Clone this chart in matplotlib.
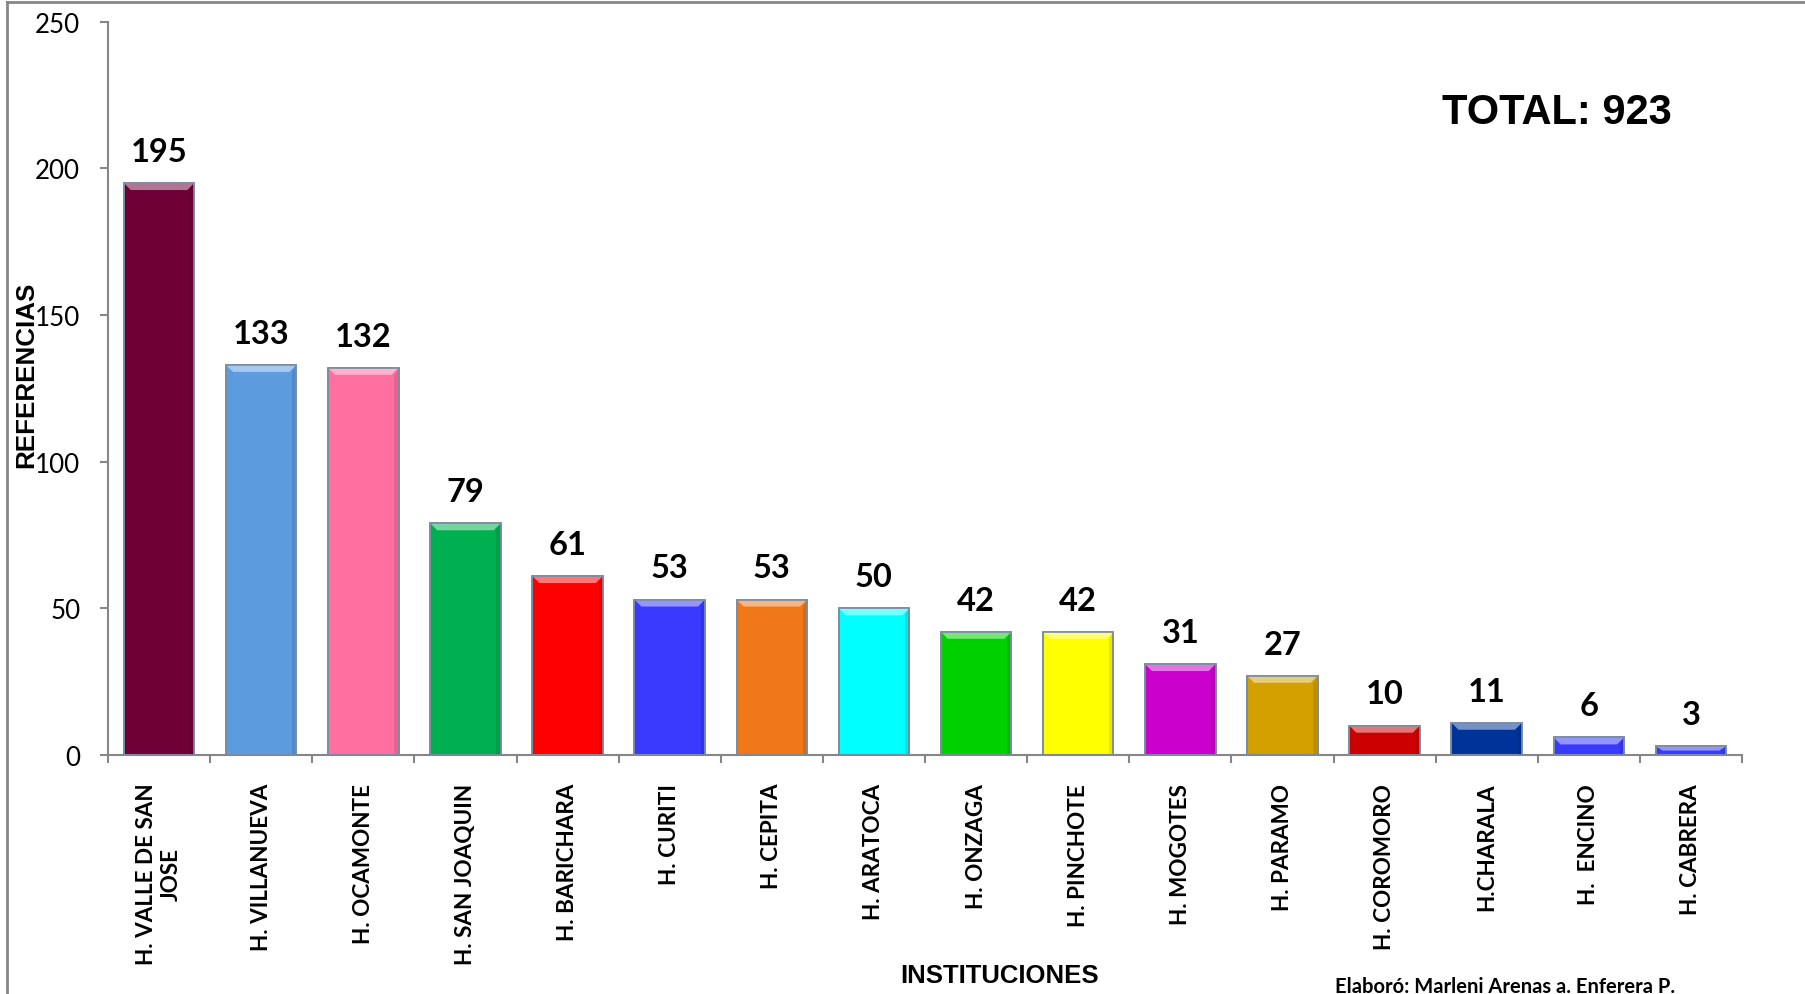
import matplotlib
matplotlib.use("Agg")
import matplotlib.pyplot as plt
from matplotlib.patches import Polygon
from matplotlib.lines import Line2D
import matplotlib.colors as mcolors
import numpy as np

categories = ["H. VALLE DE SAN\nJOSE", "H. VILLANUEVA", "H. OCAMONTE", "H. SAN JOAQUIN",
              "H. BARICHARA", "H. CURITI", "H. CEPITA", "H. ARATOCA", "H. ONZAGA",
              "H. PINCHOTE", "H. MOGOTES", "H. PARAMO", "H. COROMORO", "H.CHARALA",
              "H.  ENCINO", "H. CABRERA"]
values = [195, 133, 132, 79, 61, 53, 53, 50, 42, 42, 31, 27, 10, 11, 6, 3]
colors = ["#6E0035", "#5B9BDE", "#FF6FA0", "#00B050", "#FF0000", "#3A3AFF", "#F07818",
          "#00FFFF", "#00D000", "#FFFF00", "#CC00CC", "#D4A000", "#CC0000", "#003399",
          "#3A3AFF", "#3A3AFF"]
yticks = [0, 50, 100, 150, 200, 250]
total_text = "TOTAL: 923"
x_title = "INSTITUCIONES"
y_title = "REFERENCIAS"
credit = "Elaboró: Marleni Arenas a. Enferera P."

W, H = 1806, 995
fig = plt.figure(figsize=(W / 100, H / 100), dpi=100)
fig.patch.set_facecolor("white")
ax = fig.add_axes([108 / W, 1 - 756 / H, (1742 - 108) / W, (756 - 22.7) / H])

x = np.arange(len(values))
bw = 0.69
ax.bar(x, values, width=bw, color=colors, edgecolor="#7A8CA0", linewidth=1.2, zorder=2)

ax.set_xlim(-0.5, len(values) - 0.5)
ax.set_ylim(0, 250)

# bevel effect
px_x = ((1742 - 108) / len(values))
px_y = (756 - 22.7) / 250.0
for xi, v, c in zip(x, values, colors):
    rgb = np.array(mcolors.to_rgb(c))
    light = 1 - (1 - rgb) * 0.45
    dark = rgb * 0.8
    dx = 7 / px_x
    dy = min(7 / px_y, v / 2.0)
    x0, x1 = xi - bw / 2, xi + bw / 2
    top = Polygon([[x0, v], [x1, v], [x1 - dx, v - dy], [x0 + dx, v - dy]], closed=True,
                  facecolor=light, edgecolor="none", alpha=0.85, zorder=3)
    ax.add_patch(top)
    right = Polygon([[x1, v], [x1, 0], [x1 - dx * 0.6, 0], [x1 - dx * 0.6, v - dy]], closed=True,
                    facecolor=dark, edgecolor="none", alpha=0.5, zorder=3)
    ax.add_patch(right)
    ax.bar(xi, v, width=bw, facecolor="none", edgecolor="#7A8CA0", linewidth=1.2, zorder=4)
    ax.annotate(str(v), (xi, v), xytext=(0, 16), textcoords="offset points",
                ha="center", va="baseline", fontsize=23.5, fontweight="bold",
                family="Lato", color="black", zorder=5)

for s in ["top", "right"]:
    ax.spines[s].set_visible(False)
for s in ["left", "bottom"]:
    ax.spines[s].set_color("#868686")
    ax.spines[s].set_linewidth(1.5)

ax.set_yticks(yticks)
ax.set_yticklabels([str(t) for t in yticks], fontsize=18.7, family="Lato")
ax.tick_params(axis="y", length=6, width=1.5, color="#868686", pad=14)

ax.set_xticks(x)
ax.set_xticklabels(categories, rotation=90, fontsize=16.2, fontweight="bold", family="Lato",
                   va="top", ha="center", multialignment="center")
ax.tick_params(axis="x", length=0, pad=20)
ax.set_xticks(np.arange(-0.5, len(values)), minor=True)
ax.tick_params(axis="x", which="minor", length=6, width=1.5, color="#868686")

fig.text(1000 / W, 1 - 976 / H, x_title, ha="center", va="center", fontsize=18.5,
         fontweight="bold", family="Liberation Sans")
fig.text(26 / W, 1 - 375 / H, y_title, ha="center", va="center", rotation=90,
         fontsize=18.7, fontweight="bold", family="Liberation Sans")
fig.text(1442 / W, 1 - 113 / H, total_text, ha="left", va="center", fontsize=30,
         fontweight="bold", family="Liberation Sans")
fig.text(1335 / W, 1 - 993 / H, credit, ha="left", va="baseline", fontsize=14.5,
         fontweight="bold", family="Lato")

# outer frame
fig.add_artist(Line2D([7 / W, 7 / W], [0, 1 - 3 / H], transform=fig.transFigure,
                      color="#868686", linewidth=2))
fig.add_artist(Line2D([7 / W, 1], [1 - 3 / H, 1 - 3 / H], transform=fig.transFigure,
                      color="#868686", linewidth=2))

fig.savefig("out.png", dpi=100, facecolor="white")
